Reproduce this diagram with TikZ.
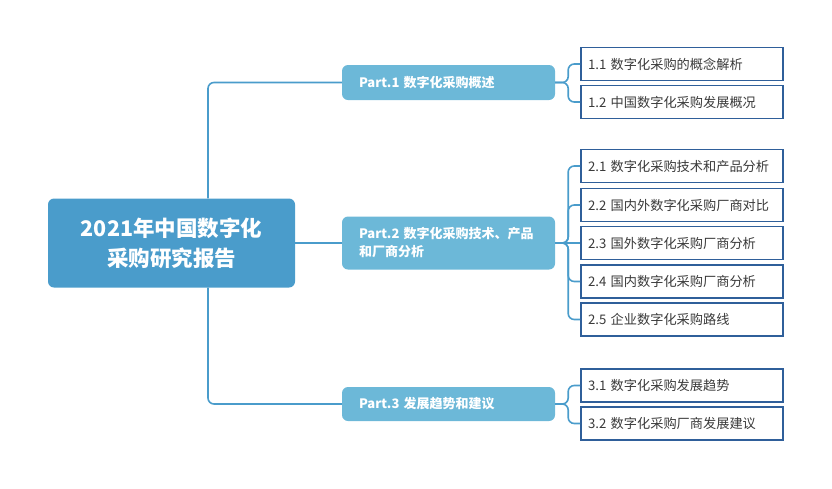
\documentclass[tikz,border=0pt]{standalone}
\usepackage{fontspec}
\setmainfont{Noto Sans CJK SC}
\definecolor{rootc}{HTML}{4A9CCB}
\definecolor{partc}{HTML}{6CB8D8}
\definecolor{leafb}{HTML}{2F5F9A}
\definecolor{leaft}{HTML}{3A3A3A}
\definecolor{connc}{HTML}{4A9CCB}
\begin{document}
\begin{tikzpicture}[x=1pt,y=-1pt,
  rootbox/.style={fill=rootc, rounded corners=6pt, minimum width=247pt, minimum height=89pt, text=white, font=\bfseries\fontsize{21.5}{30}\selectfont, align=center, inner sep=0pt},
  partbox/.style={fill=partc, rounded corners=6pt, minimum width=213pt, text=white, font=\bfseries\fontsize{13}{18}\selectfont, align=left, text width=179pt, inner xsep=17pt, inner ysep=0pt},
  leafbox/.style={draw=leafb, line width=1.6pt, fill=white, minimum width=202pt, minimum height=33pt, text=leaft, font=\fontsize{13.2}{17}\selectfont, align=left, text width=188pt, inner xsep=7pt, inner ysep=0pt},
  conn/.style={draw=connc, line width=1.6pt, rounded corners=6pt}
]
\useasboundingbox (0,0) rectangle (832,488);
\node[rootbox] (root) at (171.5,243) {2021年中国数字化\\采购研究报告};
\node[partbox, minimum height=35pt] (p1) at (448.5,82.5) {\mbox{Part.1 数字化采购概述}};
\node[partbox, minimum height=53pt] (p2) at (448.5,243) {\mbox{Part.2 数字化采购技术、产品}\\\mbox{和厂商分析}};
\node[partbox, minimum height=34pt] (p3) at (448.5,404) {\mbox{Part.3 发展趋势和建议}};
\node[leafbox] (l11) at (682,64) {\mbox{1.1 数字化采购的概念解析}};
\node[leafbox] (l12) at (682,102) {\mbox{1.2 中国数字化采购发展概况}};
\node[leafbox] (l21) at (682,166) {\mbox{2.1 数字化采购技术和产品分析}};
\node[leafbox] (l22) at (682,205) {\mbox{2.2 国内外数字化采购厂商对比}};
\node[leafbox] (l23) at (682,243) {\mbox{2.3 国外数字化采购厂商分析}};
\node[leafbox] (l24) at (682,281.5) {\mbox{2.4 国内数字化采购厂商分析}};
\node[leafbox] (l25) at (682,319.5) {\mbox{2.5 企业数字化采购路线}};
\node[leafbox] (l31) at (682,385.5) {\mbox{3.1 数字化采购发展趋势}};
\node[leafbox] (l32) at (682,423.5) {\mbox{3.2 数字化采购厂商发展建议}};
\coordinate (t) at (208,0);
\draw[conn] (root.north -| t) |- (p1.west);
\draw[conn] (root.south -| t) |- (p3.west);
\draw[conn] (root.east) -- (p2.west);
\foreach \p/\l in {p1/l11,p1/l12,p2/l21,p2/l22,p2/l24,p2/l25,p3/l31,p3/l32}{
  \draw[conn] (\p.east) -- ++(13,0) |- (\l.west);
}
\draw[conn] (p2.east) -- (l23.west);
\end{tikzpicture}
\end{document}
